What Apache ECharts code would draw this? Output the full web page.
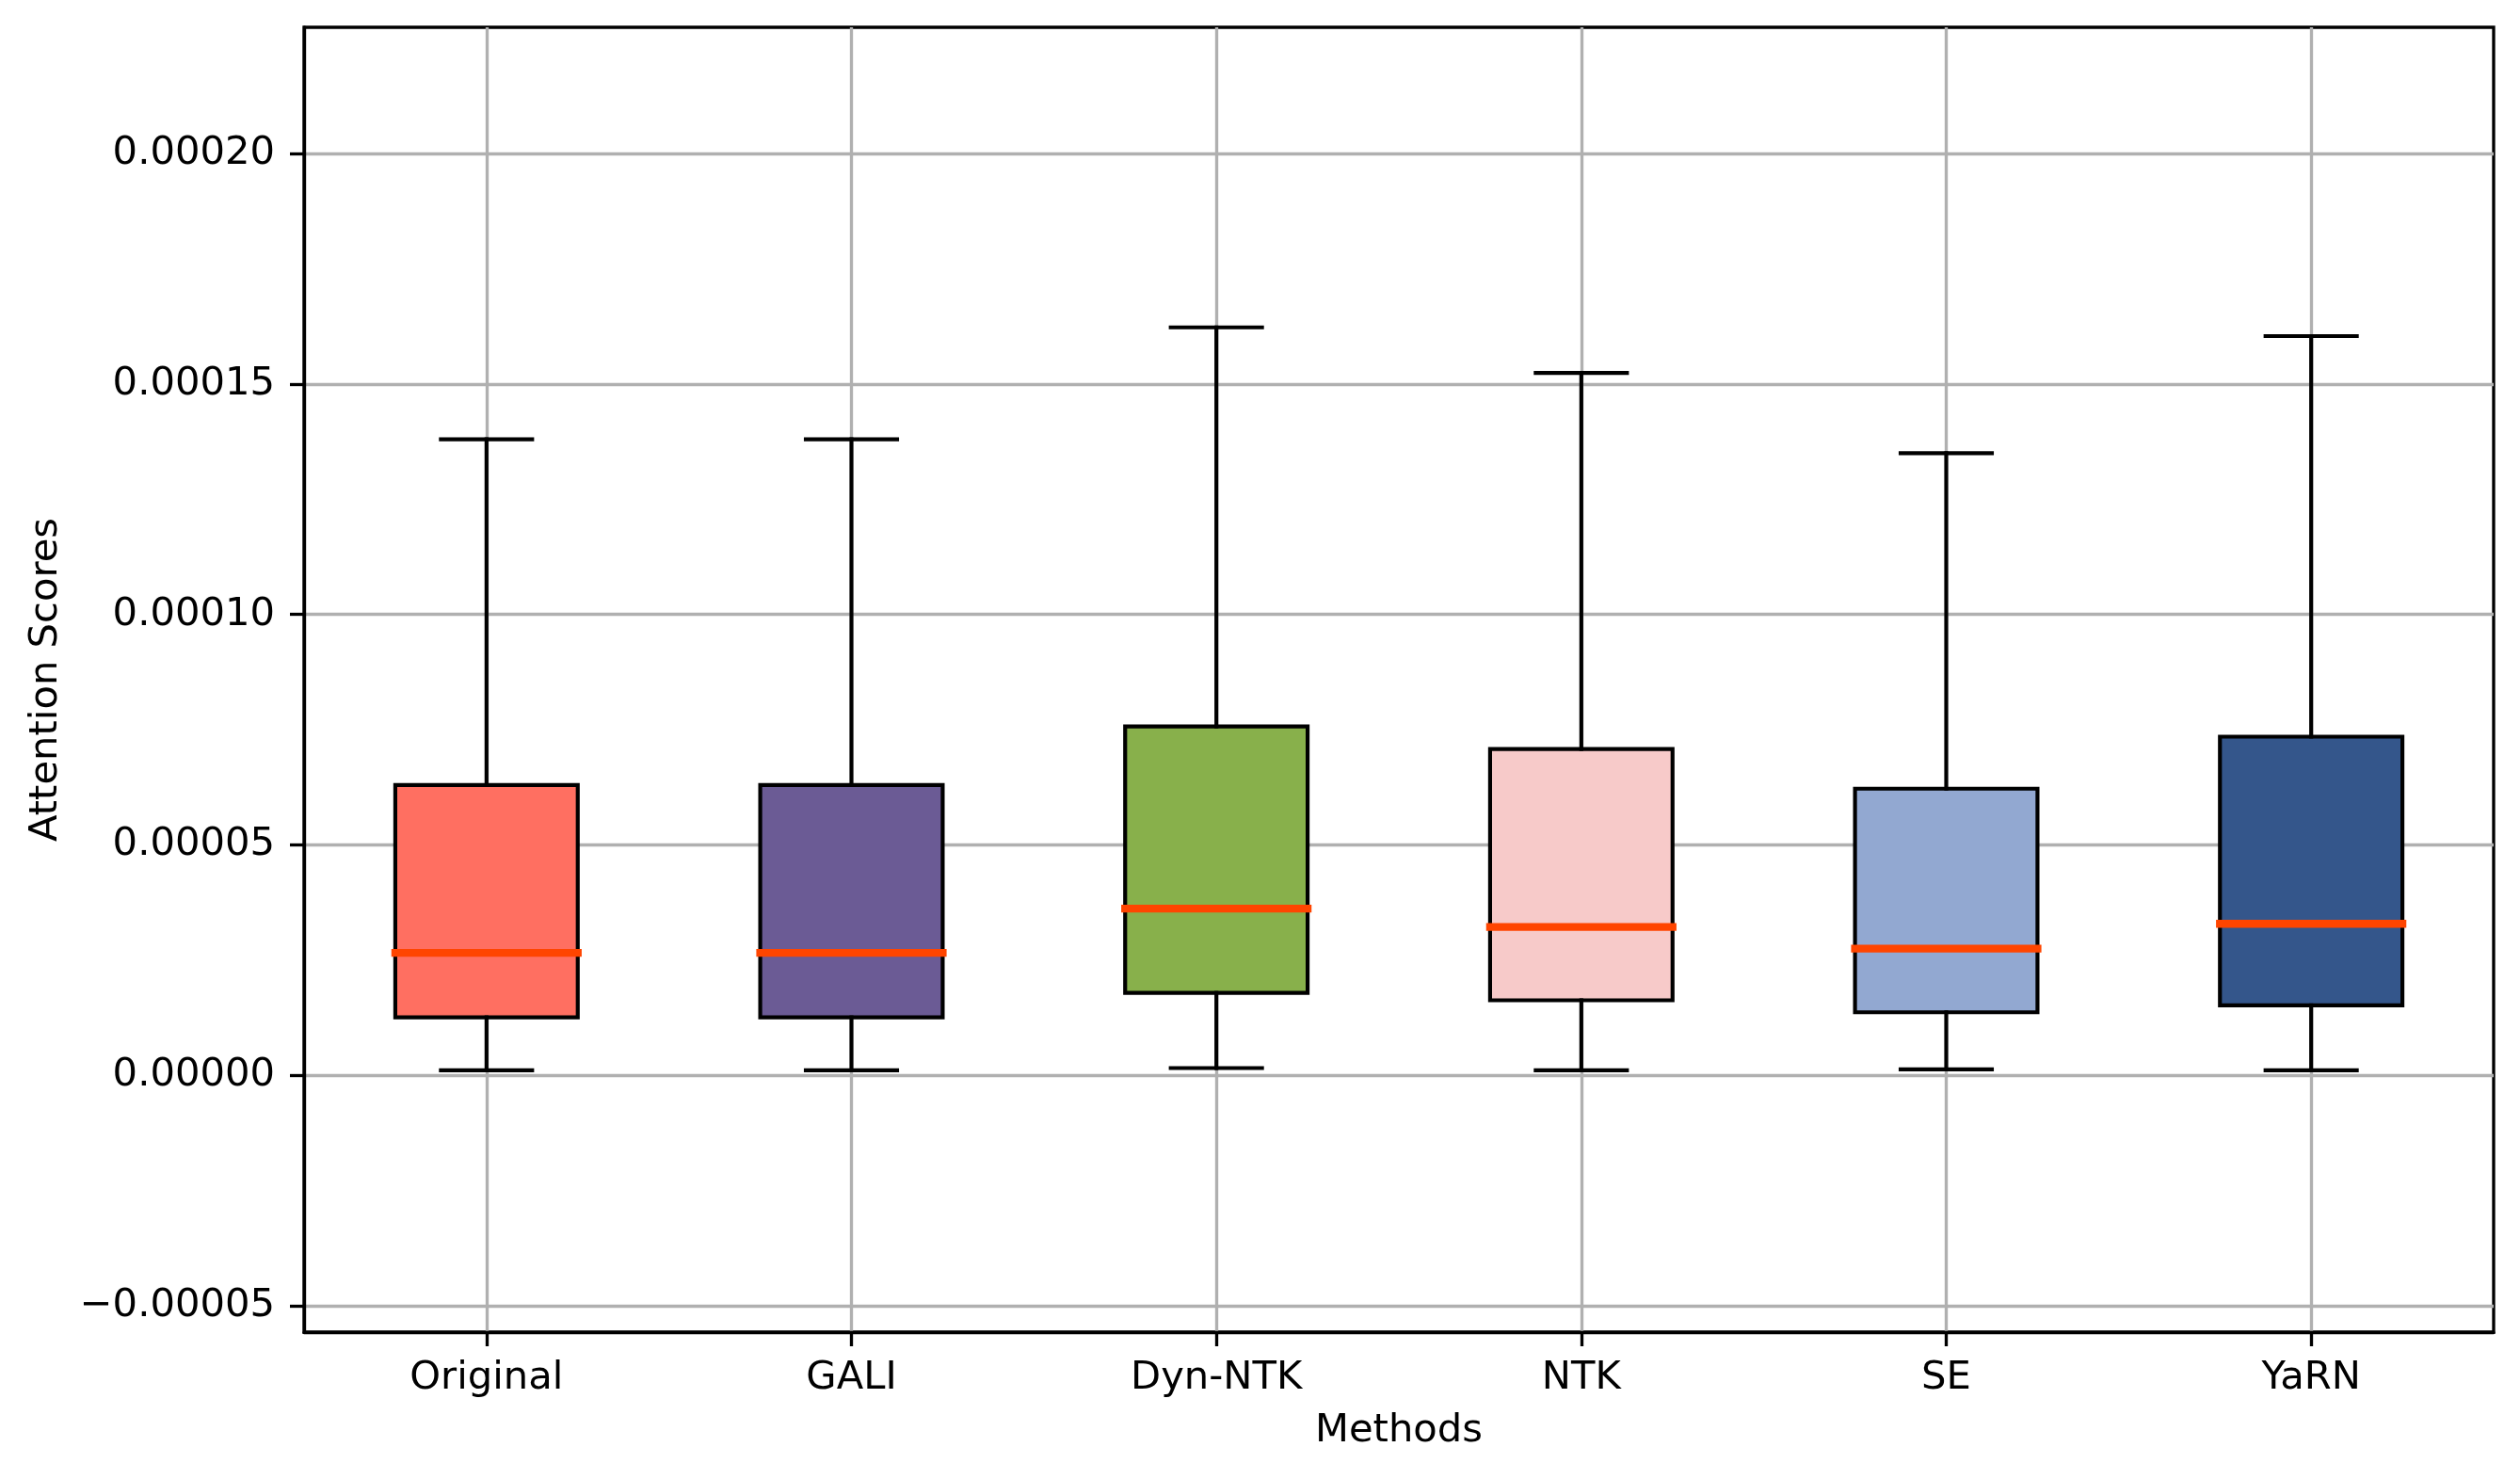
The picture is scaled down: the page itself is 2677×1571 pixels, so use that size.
<!DOCTYPE html>
<html>
<head>
<meta charset="utf-8">
<title>Attention Scores by Method</title>
<script src="https://cdn.jsdelivr.net/npm/echarts@6/dist/echarts.min.js"></script>
<style>
  html, body { margin: 0; padding: 0; background: #fff; }
  #chart { width: 2677px; height: 1571px; }
</style>
</head>
<body>
<div id="chart"></div>
<script>
const methods = ["Original", "GALI", "Dyn-NTK", "NTK", "SE", "YaRN"];
// box stats
const whiskerLow = [0.0000011, 0.0000011, 0.0000016, 0.0000011, 0.0000013, 0.0000011];
const q1 = [0.0000126, 0.0000126, 0.0000179, 0.0000163, 0.0000137, 0.0000152];
const medians = [0.0000266, 0.0000266, 0.0000362, 0.0000322, 0.0000275, 0.0000329];
const q3 = [0.0000630, 0.0000630, 0.0000757, 0.0000708, 0.0000622, 0.0000735];
const whiskerHigh = [0.0001380, 0.0001380, 0.0001623, 0.0001524, 0.0001350, 0.0001604];
const boxColors = ["#FF6F61", "#6B5B95", "#88B04B", "#F7CAC9", "#92A8D1", "#34568B"];
const yTicks = [-0.00005, 0, 0.00005, 0.0001, 0.00015, 0.0002];
const xTicks = [1, 2, 3, 4, 5, 6];

const chart = echarts.init(document.getElementById("chart"));

const LW = 4.17;      // 1pt at 300 dpi
const SPINE = 3.33;   // 0.8pt
const FONT = 41.7;    // 10pt

const boxData = methods.map((m, i) => [i + 1, whiskerLow[i], q1[i], medians[i], q3[i], whiskerHigh[i]]);

function renderBox(params, api) {
  const i = params.dataIndex;
  const x = api.value(0);
  const unit = api.size([1, 0])[0];
  const half = unit * 0.25;     // widths=0.5
  const capHalf = unit * 0.125; // caps are half the box
  const low = api.coord([x, api.value(1)]);
  const b1 = api.coord([x, api.value(2)]);
  const med = api.coord([x, api.value(3)]);
  const b3 = api.coord([x, api.value(4)]);
  const high = api.coord([x, api.value(5)]);
  const cx = low[0];
  const lineStyle = { stroke: "#000", lineWidth: LW, lineCap: "square" };
  return {
    type: "group",
    children: [
      {
        type: "rect",
        shape: { x: cx - half, y: b3[1], width: half * 2, height: b1[1] - b3[1] },
        style: { fill: boxColors[i], stroke: "#000", lineWidth: LW, lineJoin: "miter" }
      },
      { type: "line", shape: { x1: cx, y1: b1[1], x2: cx, y2: low[1] }, style: lineStyle },
      { type: "line", shape: { x1: cx, y1: b3[1], x2: cx, y2: high[1] }, style: lineStyle },
      { type: "line", shape: { x1: cx - capHalf, y1: low[1], x2: cx + capHalf, y2: low[1] }, style: lineStyle },
      { type: "line", shape: { x1: cx - capHalf, y1: high[1], x2: cx + capHalf, y2: high[1] }, style: lineStyle },
      {
        type: "line",
        shape: { x1: cx - half, y1: med[1], x2: cx + half, y2: med[1] },
        style: { stroke: "#FF4500", lineWidth: LW * 2, lineCap: "square" }
      }
    ]
  };
}

const option = {
  animation: false,
  backgroundColor: "#fff",
  textStyle: { fontFamily: "DejaVu Sans", color: "#000" },
  grid: {
    left: 323, right: 28, top: 29, bottom: 156,
    show: true, borderColor: "#000", borderWidth: SPINE, backgroundColor: "transparent"
  },
  xAxis: {
    type: "value",
    min: 0.5,
    max: 6.5,
    name: "Methods",
    nameLocation: "middle",
    nameGap: 84,
    nameTextStyle: { fontSize: FONT, color: "#000", fontFamily: "DejaVu Sans" },
    axisLine: { show: true, onZero: false, lineStyle: { color: "#000", width: SPINE } },
    axisTick: { show: true, length: 15, customValues: xTicks, lineStyle: { color: "#000", width: SPINE } },
    axisLabel: {
      customValues: xTicks,
      margin: 28,
      fontSize: FONT,
      color: "#000",
      fontFamily: "DejaVu Sans",
      formatter: v => methods[Math.round(v) - 1] || ""
    },
    splitLine: { show: true, lineStyle: { color: "#b0b0b0", width: SPINE } }
  },
  yAxis: {
    type: "value",
    min: -0.0000557,
    max: 0.0002274,
    name: "Attention Scores",
    nameLocation: "middle",
    nameGap: 253,
    nameTextStyle: { fontSize: FONT, color: "#000", fontFamily: "DejaVu Sans" },
    axisLine: { show: true, onZero: false, lineStyle: { color: "#000", width: SPINE } },
    axisTick: { show: true, length: 15, customValues: yTicks, lineStyle: { color: "#000", width: SPINE } },
    axisLabel: {
      customValues: yTicks,
      margin: 31,
      fontSize: FONT,
      color: "#000",
      fontFamily: "DejaVu Sans",
      formatter: v => (v < 0 ? "\u2212" : "") + Math.abs(v).toFixed(5)
    },
    splitLine: { show: true, lineStyle: { color: "#b0b0b0", width: SPINE } }
  },
  series: [{
    type: "custom",
    name: "Attention Scores",
    renderItem: renderBox,
    encode: { x: 0, y: [1, 2, 3, 4, 5] },
    data: boxData,
    z: 3
  }]
};

chart.setOption(option);
</script>
</body>
</html>
